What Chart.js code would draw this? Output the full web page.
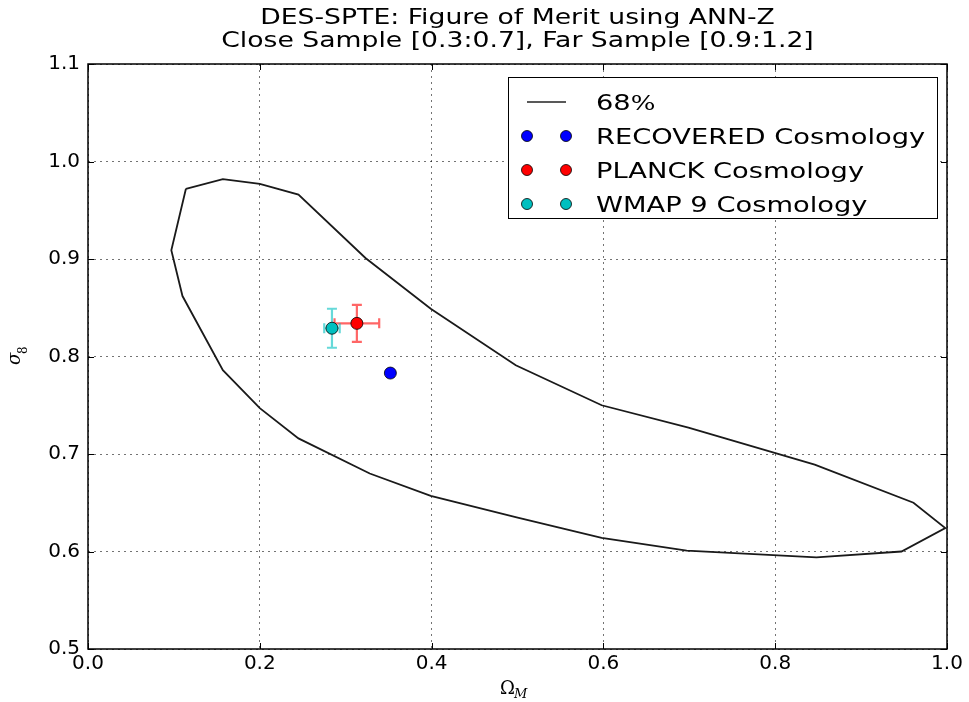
<!DOCTYPE html>
<html>
<head>
<meta charset="utf-8">
<script src="https://cdn.jsdelivr.net/npm/chart.js@4.4.1/dist/chart.umd.min.js"></script>
<style>
  html, body { margin: 0; padding: 0; background: #ffffff; }
  #wrap { width: 969px; height: 702px; }
</style>
</head>
<body>
<div id="wrap"><canvas id="fom" width="969" height="702"></canvas></div>
<script>
// 68% confidence contour in the (Omega_M, sigma_8) plane
const contourOmegaM = [0.114, 0.157, 0.200, 0.245, 0.323, 0.399, 0.498, 0.598, 0.699, 0.846,
                       0.961, 0.998, 0.947, 0.848, 0.697, 0.598, 0.499, 0.399, 0.328, 0.245,
                       0.200, 0.157, 0.110, 0.097, 0.114];
const contourSigma8 = [0.972, 0.982, 0.977, 0.966, 0.901, 0.849, 0.791, 0.750, 0.727, 0.689,
                       0.650, 0.624, 0.600, 0.594, 0.601, 0.614, 0.635, 0.657, 0.680, 0.716,
                       0.747, 0.786, 0.862, 0.909, 0.972];

// Cosmologies: [Omega_M, sigma_8] and their 1-sigma errors
const recoveredPoint = [0.352, 0.783];
const planckPoint = [0.313, 0.834];
const planckErr = [0.026, 0.019];
const wmapPoint = [0.284, 0.829];
const wmapErr = [0.009, 0.020];

const xTicks = [0.0, 0.2, 0.4, 0.6, 0.8, 1.0];
const yTicks = [0.5, 0.6, 0.7, 0.8, 0.9, 1.0, 1.1];

const titleLines = ['DES-SPTE: Figure of Merit using ANN-Z', 'Close Sample [0.3:0.7], Far Sample [0.9:1.2]'];
const legendLabels = ['68%', 'RECOVERED Cosmology', 'PLANCK Cosmology', 'WMAP 9 Cosmology'];

const BLUE = '#0000ff', RED = '#ff0000', CYAN = '#00bfbf';
const SANS = '"DejaVu Sans", Verdana, sans-serif';
const SERIF = '"DejaVu Serif", "Liberation Serif", serif';
const WIDE = 1.3; // horizontal stretch of title and legend lettering

function wideText(ctx, text, x, y, align, font, color) {
  ctx.save();
  ctx.font = font;
  ctx.fillStyle = color || '#000';
  ctx.textBaseline = 'alphabetic';
  const w = ctx.measureText(text).width * WIDE;
  let x0 = x;
  if (align === 'center') x0 = x - w / 2;
  else if (align === 'right') x0 = x - w;
  ctx.translate(x0, y);
  ctx.scale(WIDE, 1);
  ctx.textAlign = 'left';
  ctx.fillText(text, 0, 0);
  ctx.restore();
  return w;
}

function dot(ctx, x, y, r, fill) {
  ctx.beginPath();
  ctx.arc(x, y, r, 0, Math.PI * 2);
  ctx.fillStyle = fill;
  ctx.fill();
  ctx.lineWidth = 0.8;
  ctx.strokeStyle = '#000';
  ctx.stroke();
}

const pts = (xs, ys) => xs.map((x, i) => ({ x: x, y: ys[i] }));

const errorBars = {
  id: 'errorBars',
  beforeDatasetsDraw(chart) {
    const ctx = chart.ctx, xs = chart.scales.x, ys = chart.scales.y;
    chart.data.datasets.forEach(ds => {
      if (!ds.err) return;
      const p = ds.data[0];
      const cx = xs.getPixelForValue(p.x), cy = ys.getPixelForValue(p.y);
      const x1 = xs.getPixelForValue(p.x - ds.err[0]), x2 = xs.getPixelForValue(p.x + ds.err[0]);
      const y1 = ys.getPixelForValue(p.y - ds.err[1]), y2 = ys.getPixelForValue(p.y + ds.err[1]);
      const cap = 5;
      ctx.save();
      ctx.strokeStyle = ds.errColor;
      ctx.lineWidth = 2.2;
      ctx.beginPath();
      ctx.moveTo(x1, cy); ctx.lineTo(x2, cy);
      ctx.moveTo(cx, y1); ctx.lineTo(cx, y2);
      ctx.moveTo(x1, cy - cap); ctx.lineTo(x1, cy + cap);
      ctx.moveTo(x2, cy - cap); ctx.lineTo(x2, cy + cap);
      ctx.moveTo(cx - cap, y1); ctx.lineTo(cx + cap, y1);
      ctx.moveTo(cx - cap, y2); ctx.lineTo(cx + cap, y2);
      ctx.stroke();
      ctx.restore();
    });
  }
};

const decorations = {
  id: 'decorations',
  afterDraw(chart) {
    const ctx = chart.ctx, a = chart.chartArea, xs = chart.scales.x, ys = chart.scales.y;
    ctx.save();
    // inward tick marks on all four sides
    ctx.strokeStyle = '#000';
    ctx.lineWidth = 1;
    ctx.beginPath();
    xs.ticks.forEach(t => {
      const px = Math.round(xs.getPixelForValue(t.value)) + 0.5;
      ctx.moveTo(px, a.bottom); ctx.lineTo(px, a.bottom - 6);
      ctx.moveTo(px, a.top); ctx.lineTo(px, a.top + 6);
    });
    ys.ticks.forEach(t => {
      const py = Math.round(ys.getPixelForValue(t.value)) + 0.5;
      ctx.moveTo(a.left, py); ctx.lineTo(a.left + 6, py);
      ctx.moveTo(a.right, py); ctx.lineTo(a.right - 6, py);
    });
    ctx.stroke();
    // axes frame
    ctx.lineWidth = 1.5;
    ctx.strokeRect(a.left, a.top, a.right - a.left, a.bottom - a.top);

    // title
    const cx = (a.left + a.right) / 2;
    wideText(ctx, titleLines[0], cx, 24, 'center', '20.5px ' + SANS);
    wideText(ctx, titleLines[1], cx, 47, 'center', '20.5px ' + SANS);

    // legend
    const L = 508, T = 77, R = 937, B = 218;
    ctx.fillStyle = '#fff';
    ctx.fillRect(L, T, R - L, B - T);
    ctx.lineWidth = 1;
    ctx.strokeStyle = '#000';
    ctx.strokeRect(L + 0.5, T + 0.5, R - L, B - T);
    const rows = [102, 136, 170, 204];
    const m1 = 527, m2 = 566, tx = 596;
    ctx.beginPath();
    ctx.lineWidth = 1.5;
    ctx.strokeStyle = '#222';
    ctx.moveTo(m1, rows[0]); ctx.lineTo(m2, rows[0]);
    ctx.stroke();
    const w68 = wideText(ctx, '68', tx, rows[0] + 8, 'left', '21px ' + SANS);
    wideText(ctx, '%', tx + w68, rows[0] + 8, 'left', '20px ' + SERIF);
    const cols = [BLUE, RED, CYAN];
    for (let i = 1; i < 4; i++) {
      dot(ctx, m1, rows[i], 5.5, cols[i - 1]);
      dot(ctx, m2, rows[i], 5.5, cols[i - 1]);
      wideText(ctx, legendLabels[i], tx, rows[i] + 8, 'left', '21px ' + SANS);
    }

    // axis titles
    ctx.fillStyle = '#000';
    ctx.textBaseline = 'alphabetic';
    ctx.textAlign = 'left';
    ctx.font = '18px ' + SERIF;
    ctx.fillText('\u03A9', 500, 694);
    ctx.font = 'italic 13px ' + SERIF;
    ctx.fillText('M', 514, 698);

    ctx.translate(20, 357);
    ctx.rotate(-Math.PI / 2);
    ctx.font = 'italic 18px ' + SERIF;
    ctx.fillText('\u03C3', -8, 0);
    ctx.font = '12px ' + SERIF;
    ctx.fillText('8', 3, 7);
    ctx.restore();
  }
};

new Chart(document.getElementById('fom'), {
  type: 'scatter',
  plugins: [errorBars, decorations],
  data: {
    datasets: [
      {
        label: legendLabels[0],
        data: pts(contourOmegaM, contourSigma8),
        showLine: true,
        borderColor: '#1a1a1a',
        borderWidth: 1.8,
        pointRadius: 0,
        tension: 0,
        fill: false
      },
      {
        label: legendLabels[1],
        data: [{ x: recoveredPoint[0], y: recoveredPoint[1] }],
        backgroundColor: BLUE, borderColor: '#000', borderWidth: 0.8, pointRadius: 6
      },
      {
        label: legendLabels[2],
        data: [{ x: planckPoint[0], y: planckPoint[1] }],
        err: planckErr, errColor: 'rgba(255,0,0,0.6)',
        backgroundColor: RED, borderColor: '#000', borderWidth: 0.8, pointRadius: 6
      },
      {
        label: legendLabels[3],
        data: [{ x: wmapPoint[0], y: wmapPoint[1] }],
        err: wmapErr, errColor: 'rgba(0,191,191,0.6)',
        backgroundColor: CYAN, borderColor: '#000', borderWidth: 0.8, pointRadius: 6
      }
    ]
  },
  options: {
    responsive: false,
    animation: false,
    events: [],
    layout: { padding: { top: 64, right: 22, left: 0, bottom: 0 } },
    plugins: { legend: { display: false }, title: { display: false }, tooltip: { enabled: false } },
    scales: {
      x: {
        type: 'linear', min: 0, max: 1,
        afterBuildTicks: s => { s.ticks = xTicks.map(v => ({ value: v })); },
        afterFit: s => { s.height = 53; },
        ticks: { callback: v => Number(v).toFixed(1), color: '#000', padding: 3, font: { family: SANS, size: 20 }, maxRotation: 0 },
        grid: { color: 'rgba(0,0,0,0.55)', lineWidth: 1, drawTicks: false },
        border: { display: false, dash: [2, 4] }
      },
      y: {
        type: 'linear', min: 0.5, max: 1.1,
        afterBuildTicks: s => { s.ticks = yTicks.map(v => ({ value: v })); },
        afterFit: s => { s.width = 88; },
        ticks: { callback: v => Number(v).toFixed(1), color: '#000', padding: 8, font: { family: SANS, size: 20 } },
        grid: { color: 'rgba(0,0,0,0.55)', lineWidth: 1, drawTicks: false },
        border: { display: false, dash: [2, 4] }
      }
    }
  }
});
</script>
</body>
</html>
